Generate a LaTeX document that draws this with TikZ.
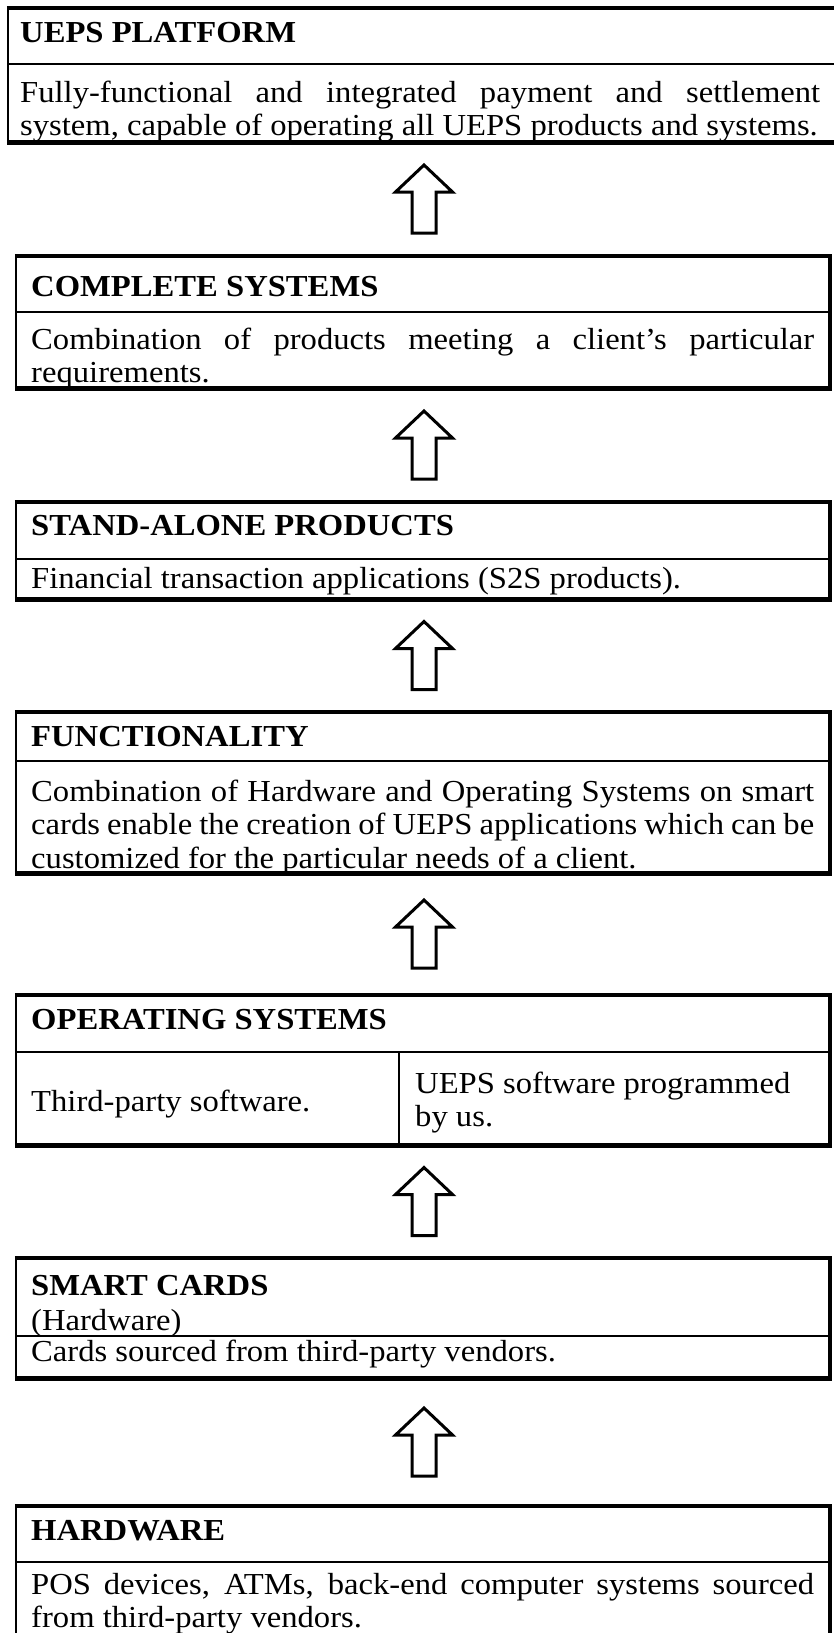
\documentclass[tikz,border=0pt]{standalone}
\usepackage{fontspec}
\setmainfont{Liberation Serif}
\usepackage{graphicx}
\usetikzlibrary{fit,calc}
\newcommand{\fs}{\fontsize{30.5}{33.5}\selectfont}
\newcommand{\hx}[1]{\scalebox{1.07}[1]{#1}}
\newcommand{\jtext}[2]{\hx{\parbox[t]{#1}{\fs\tolerance=10000\hbadness=10000\hyphenpenalty=10000\exhyphenpenalty=10000 #2}}}
\newcommand{\rtext}[2]{\hx{\parbox[t]{#1}{\fs\raggedright #2}}}
\tikzset{
  topline/.style={line width=4.5pt},
  botline/.style={line width=5pt},
  sideline/.style={line width=2pt},
  rside/.style={line width=3.5pt},
  sepline/.style={line width=2pt},
  arrowline/.style={line width=3pt, fill=white, line join=miter},
  txt/.style={inner sep=0pt, anchor=base west, font=\fs},
  ttl/.style={txt, font=\fs\bfseries},
  area/.style={inner sep=0pt, draw=none},
  blockup/.pic={\draw[arrowline] (0,-34) -- (28.5,-7) -- (12,-7) -- (12,34) -- (-12,34) -- (-12,-7) -- (-28.5,-7) -- cycle;}
}
\newcommand{\panel}[5]{%
  \node[area, fit={(#2,#3) (#4,#5)}] (#1) {};
  \draw[sideline] (#1.north west) -- (#1.south west);
  \draw[rside] (#1.north east) -- (#1.south east);
  \draw[topline] ([xshift=-1pt]#1.north west) -- ([xshift=1.75pt]#1.north east);
  \draw[botline] ([xshift=-1pt]#1.south west) -- ([xshift=1.75pt]#1.south east);
}
\begin{document}
\begin{tikzpicture}[x=1pt,y=-1pt]
\useasboundingbox[fill=white] (0,0) rectangle (833,1633);

% boxes
\panel{b1}{8}{8}{840}{142}
\panel{b2}{16}{256}{830}{388}
\panel{b3}{16}{502}{830}{599}
\panel{b4}{16}{712}{830}{873}
\panel{b5}{16}{995}{830}{1145}
\panel{b6}{16}{1258}{830}{1378}
\panel{b7}{16}{1506}{830}{1650}

% separators
\coordinate (s1) at (0,64);
\coordinate (s2) at (0,312);
\coordinate (s3) at (0,559);
\coordinate (s4) at (0,761);
\coordinate (s5) at (0,1052);
\coordinate (s6) at (0,1336);
\coordinate (s7) at (0,1562);
\draw[sepline] (b1.west |- s1) -- (b1.east |- s1);
\draw[sepline] (b2.west |- s2) -- (b2.east |- s2);
\draw[sepline] (b3.west |- s3) -- (b3.east |- s3);
\draw[sepline] (b4.west |- s4) -- (b4.east |- s4);
\draw[sepline] (b5.west |- s5) -- (b5.east |- s5);
\draw[sepline] (b6.west |- s6) -- (b6.east |- s6);
\draw[sepline] (b7.west |- s7) -- (b7.east |- s7);
\coordinate (dv) at (399,0);
\draw[sepline] (dv |- s5) -- (dv |- b5.south);

% texts
\node[ttl] (t1) at (20,42) {\hx{UEPS PLATFORM}};
\node[txt] (d1) at (20,102) {\jtext{747.66pt}{Fully-functional and integrated payment and settlement\linebreak system, capable of operating all UEPS products and systems.}};

\node[ttl] (t2) at (31,296) {\hx{COMPLETE SYSTEMS}};
\node[txt] (d2) at (31,349) {\jtext{731.78pt}{Combination of products meeting a client’s particular\linebreak requirements.}};

\node[ttl] (t3) at (31,535) {\hx{STAND-ALONE PRODUCTS}};
\node[txt] (d3) at (31,588) {\hx{Financial transaction applications (S2S products).}};

\node[ttl] (t4) at (31,746) {\hx{FUNCTIONALITY}};
\node[txt] (d4) at (31,801) {\jtext{731.78pt}{Combination of Hardware and Operating Systems on smart\linebreak cards enable the creation of UEPS applications which can be\linebreak customized for the particular needs of a client.}};

\node[ttl] (t5) at (31,1029) {\hx{OPERATING SYSTEMS}};
\node[txt] (d5a) at (31,1111) {\hx{Third-party software.}};
\node[txt] (d5b) at (415,1093) {\rtext{380pt}{UEPS software programmed\\ by us.}};

\node[ttl] (t6) at (31,1295) {\hx{SMART CARDS}};
\node[txt] (h6) at (31,1330) {\hx{(Hardware)}};
\node[txt] (d6) at (31,1361) {\hx{Cards sourced from third-party vendors.}};

\node[ttl] (t7) at (31,1540) {\hx{HARDWARE}};
\node[txt] (d7) at (31,1594) {\jtext{731.78pt}{POS devices, ATMs, back-end computer systems sourced\linebreak from third-party vendors.}};

% arrows
\path (424,0) coordinate (ax);
\coordinate (a1) at ($(b1.south)!0.5!(b2.north)$);
\pic at (ax |- a1) {blockup};
\coordinate (a2) at ($(b2.south)!0.5!(b3.north)$);
\pic at (ax |- a2) {blockup};
\coordinate (a3) at ($(b3.south)!0.5!(b4.north)$);
\pic at (ax |- a3) {blockup};
\coordinate (a4) at ($(b4.south)!0.5!(b5.north)$);
\pic at (ax |- a4) {blockup};
\coordinate (a5) at ($(b5.south)!0.5!(b6.north)$);
\pic at (ax |- a5) {blockup};
\coordinate (a6) at ($(b6.south)!0.5!(b7.north)$);
\pic at (ax |- a6) {blockup};
\end{tikzpicture}
\end{document}
